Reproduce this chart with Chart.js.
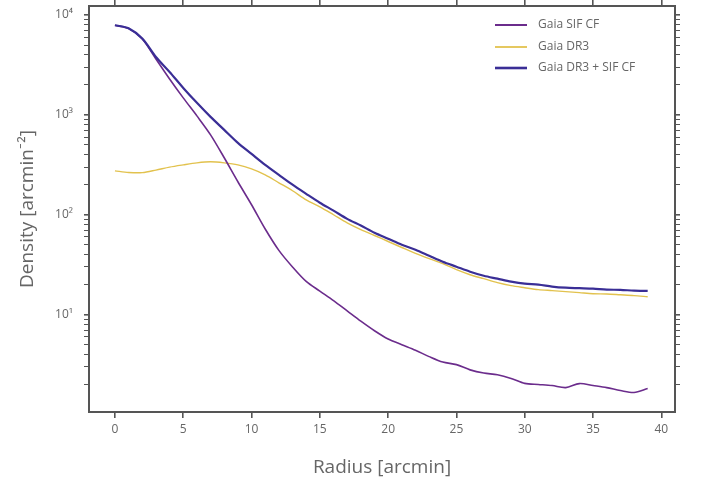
<!DOCTYPE html>
<html>
<head>
<meta charset="utf-8">
<script src="https://cdn.jsdelivr.net/npm/chart.js@4"></script>
<style>
  html, body { margin: 0; padding: 0; background: #fff; }
  #wrap { width: 703px; height: 479px; position: relative; }
</style>
</head>
<body>
<div id="wrap"><canvas id="profile"></canvas></div>
<script>
// radius in arcmin
const radius = [0, 1, 2, 3, 4, 5, 6, 7, 8, 9, 10, 11, 12, 13, 14, 15, 16, 17, 18, 19,
                20, 21, 22, 23, 24, 25, 26, 27, 28, 29, 30, 31, 32, 33, 34, 35, 36, 37, 38, 39];

// density [arcmin^-2]
const sifCF = [7900, 7300, 5750, 3630, 2290, 1480, 977, 631, 372, 214,
               126, 72, 44, 30, 21.5, 17.2, 13.8, 10.9, 8.6, 6.9,
               5.7, 5.0, 4.4, 3.8, 3.35, 3.16, 2.8, 2.6, 2.5, 2.3,
               2.05, 2.0, 1.95, 1.86, 2.04, 1.95, 1.86, 1.74, 1.66, 1.82];
const dr3 = [275, 265, 264, 280, 300, 316, 331, 339, 331, 316,
             288, 251, 209, 174, 141, 120, 100, 83, 71, 62,
             54, 47, 41, 36.3, 32.4, 28.2, 25.1, 22.9, 20.9, 19.5,
             18.6, 17.8, 17.4, 17.0, 16.6, 16.2, 16.1, 15.8, 15.5, 15.1];
const combined = [7900, 7350, 5800, 3800, 2690, 1860, 1320, 955, 708, 525,
                  407, 316, 251, 200, 162, 132, 110, 91, 78, 66,
                  57.5, 50, 44.7, 38.9, 33.9, 30.2, 26.9, 24.5, 22.9, 21.4,
                  20.4, 20.0, 19.1, 18.6, 18.4, 18.2, 17.8, 17.7, 17.4, 17.3];

const xTicks = [0, 5, 10, 15, 20, 25, 30, 35, 40];
const yMajor = [10, 100, 1000, 10000];
const yMinor = [2, 3, 4, 5, 6, 7, 8, 9, 20, 30, 40, 50, 60, 70, 80, 90,
                200, 300, 400, 500, 600, 700, 800, 900, 2000, 3000, 4000, 5000, 6000, 7000, 8000, 9000];
const yLabels = {10: '10¹', 100: '10²', 1000: '10³', 10000: '10⁴'};

const X_MIN = -1.9, X_MAX = 41.0;
const Y_MIN = 1.06, Y_MAX = 12300;

const axisCol = '#555';
const txtCol = '#666';
const fam = '"Open Sans", Lato, sans-serif';

function pts(ys) {
  return radius.map((r, i) => ({x: r, y: ys[i]}));
}

function setXTicks(scale) {
  scale.ticks = xTicks.map(v => ({value: v}));
}
function setYTicks(scale) {
  scale.ticks = yMinor.concat(yMajor).sort((a, b) => a - b).map(v => ({value: v, major: yMajor.includes(v)}));
}
// fixed box sizes, no automatic label padding
function fixSize(w, h) {
  return s => {
    if (w != null) s.width = w;
    if (h != null) s.height = h;
    s.paddingTop = s.paddingBottom = s.paddingLeft = s.paddingRight = 0;
  };
}

const tickGrid = {
  drawOnChartArea: false,
  color: axisCol,
  tickLength: 5,
  lineWidth: ctx => (ctx.tick && ctx.tick.major) ? 1.6 : 1
};
const xGrid = {drawOnChartArea: false, color: axisCol, tickLength: 6, lineWidth: 1.6};

// legend drawn inside the plot, top right
const innerLegend = {
  id: 'innerLegend',
  afterDraw(chart) {
    const c = chart.ctx;
    const rows = [25, 47, 68];
    c.save();
    c.font = '12px ' + fam;
    c.textBaseline = 'middle';
    chart.data.datasets.forEach((ds, i) => {
      const y = rows[i];
      c.strokeStyle = ds.borderColor;
      c.lineWidth = ds.borderWidth + 0.4;
      c.beginPath();
      c.moveTo(495, y);
      c.lineTo(527, y);
      c.stroke();
      c.fillStyle = txtCol;
      c.fillText(ds.label, 538, y);
    });
    c.restore();
  }
};

new Chart(document.getElementById('profile'), {
  type: 'line',
  data: {
    datasets: [
      {label: 'Gaia SIF CF', data: pts(sifCF), borderColor: '#6b2c8c', borderWidth: 1.6, order: 1},
      {label: 'Gaia DR3', data: pts(dr3), borderColor: '#e2c24e', borderWidth: 1.4, order: 2},
      {label: 'Gaia DR3 + SIF CF', data: pts(combined), borderColor: '#3a2e96', borderWidth: 2.2, order: 0}
    ]
  },
  options: {
    responsive: true,
    maintainAspectRatio: false,
    animation: false,
    layout: {padding: 0},
    elements: {point: {radius: 0}, line: {tension: 0.3}},
    plugins: {legend: {display: false}, tooltip: {enabled: false}},
    scales: {
      x: {
        type: 'linear', position: 'bottom', min: X_MIN, max: X_MAX,
        afterBuildTicks: setXTicks,
        afterFit: fixSize(null, 67),
        grid: xGrid,
        border: {color: axisCol, width: 2},
        ticks: {color: txtCol, font: {family: fam, size: 12}, padding: 4, maxRotation: 0, autoSkip: false},
        title: {display: true, text: 'Radius [arcmin]', color: txtCol, font: {family: fam, size: 19}, padding: {top: 6, bottom: 0}}
      },
      x2: {
        type: 'linear', position: 'top', min: X_MIN, max: X_MAX,
        afterBuildTicks: setXTicks,
        afterFit: fixSize(null, 6),
        grid: xGrid,
        border: {color: axisCol, width: 2},
        ticks: {display: false}
      },
      y: {
        type: 'logarithmic', position: 'left', min: Y_MIN, max: Y_MAX,
        afterBuildTicks: setYTicks,
        afterFit: fixSize(89, null),
        grid: tickGrid,
        border: {color: axisCol, width: 2},
        ticks: {
          color: txtCol, font: {family: fam, size: 12}, padding: 11, autoSkip: false,
          callback: v => yLabels[v] || ''
        },
        title: {display: true, text: 'Density [arcmin⁻²]', color: txtCol, font: {family: fam, size: 19}, padding: {top: 16, bottom: 0}}
      },
      y2: {
        type: 'logarithmic', position: 'right', min: Y_MIN, max: Y_MAX,
        afterBuildTicks: setYTicks,
        afterFit: fixSize(28, null),
        grid: tickGrid,
        border: {color: axisCol, width: 2},
        ticks: {display: false}
      }
    }
  },
  plugins: [innerLegend]
});
</script>
</body>
</html>
